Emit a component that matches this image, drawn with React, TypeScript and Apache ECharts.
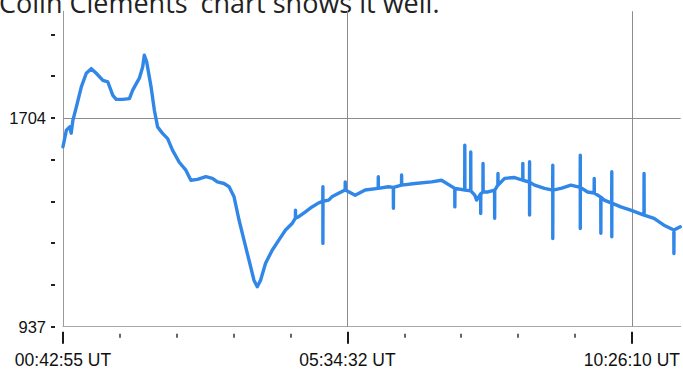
import React, { useEffect, useRef } from "react";
import * as echarts from "echarts";

// Time in minutes since 00:00 UT, values in the chart's units
const TIMES: number[] = [
  42.9, 46.4, 49.8, 51.3, 53.1, 56.6, 61.7, 66.8, 71.9, 77.0, 83.8, 88.9, 94.0, 97.5, 104.2, 111.0,
  114.4, 121.2, 124.6, 126.3, 128.7, 133.2, 136.6, 139.9, 145.0, 150.2, 155.3, 162.1, 168.9, 174.0,
  180.8, 189.4, 196.1, 201.2, 208.0, 213.2, 218.3, 223.4, 228.5, 233.6, 238.7, 242.1, 245.5, 250.6,
  257.4, 264.2, 271.1, 277.8, 281.2, 281.3, 281.4, 284.6, 291.5, 298.2, 305.1, 309.3, 309.4, 309.4,
  309.5, 315.3, 318.6, 325.5, 332.2, 332.3, 332.4, 342.5, 352.7, 366.1, 366.2, 366.3, 376.5, 381.6,
  381.7, 381.8, 390.0, 390.1, 390.2, 403.8, 420.8, 431.0, 444.6, 444.7, 444.8, 454.8, 454.9, 455.0,
  460.9, 461.0, 461.1, 465.1, 467.0, 471.1, 471.2, 471.3, 473.5, 473.6, 473.7, 478.7, 485.4, 485.5,
  485.6, 488.8, 488.9, 489.0, 495.7, 506.0, 514.3, 514.4, 514.5, 521.2, 521.3, 521.3, 521.4, 526.4,
  536.6, 545.0, 545.1, 545.1, 545.2, 553.5, 563.7, 573.2, 573.3, 573.3, 573.4, 580.8, 587.5, 587.6,
  587.7, 594.3, 594.4, 594.5, 597.8, 605.5, 605.6, 605.6, 605.7, 614.8, 625.0, 638.6, 638.7, 638.8,
  648.9, 659.1, 669.2, 669.3, 669.4, 675.8,
];
const VALUES: number[] = [
  1598, 1659, 1671, 1648, 1696, 1744, 1818, 1868, 1885, 1868, 1842, 1836, 1787, 1772, 1772, 1775,
  1806, 1850, 1891, 1934, 1910, 1818, 1732, 1671, 1647, 1628, 1585, 1541, 1512, 1475,
  1478, 1488, 1482, 1469, 1463, 1451, 1414, 1329, 1255, 1182, 1108, 1084, 1108, 1170,
  1218, 1255, 1292, 1316, 1336, 1365, 1336, 1341, 1359, 1377, 1392, 1398, 1451, 1243,
  1398, 1402, 1414, 1427, 1439, 1469, 1439, 1420, 1439, 1445, 1488, 1445, 1451, 1449,
  1372, 1449, 1457, 1494, 1457, 1463, 1469, 1475, 1445, 1377, 1445, 1439, 1604, 1439,
  1436, 1579, 1436, 1420, 1402, 1425, 1353, 1425, 1432, 1537, 1432, 1432, 1439, 1335,
  1439, 1457, 1500, 1457, 1482, 1485, 1475, 1537, 1475, 1468, 1543, 1347, 1468, 1457,
  1445, 1439, 1530, 1261, 1439, 1445, 1457, 1449, 1567, 1298, 1449, 1432, 1428, 1482,
  1428, 1413, 1280, 1413, 1402, 1391, 1506, 1267, 1391, 1377, 1365, 1347, 1500, 1347,
  1335, 1310, 1292, 1206, 1292, 1304,
];

// Axis ticks (x in seconds since 00:00 UT)
const X_LABEL_SECONDS: number[] = [2575, 20072, 37570];
const X_MINOR_SECONDS: number[] = [6074.5, 9574, 13073.5, 16573, 23571.5, 27071, 30570.5, 34070];
const Y_TICKS: number[] = [937, 1090.4, 1243.8, 1397.2, 1550.6, 1704, 1857.4, 2010.8];
const Y_LABELS: number[] = [937, 1704];
const GRID_X_SECONDS: number[] = [20072, 37570];
const GRID_Y: number[] = [1704];
const HEADLINE = "Colin Clements' chart shows it well.";

const X_MIN = 2575 / 60;
const X_MAX = 676.2;
const Y_MIN = 937;
const Y_MAX = 2096;

const pad = (n: number) => String(n).padStart(2, "0");
const fmtTime = (min: number) => {
  const s = Math.round(min * 60);
  const h = Math.floor(s / 3600);
  const m = Math.floor((s % 3600) / 60);
  const sec = s % 60;
  return `${pad(h)}:${pad(m)}:${pad(sec)} UT`;
};

export default function App() {
  const ref = useRef<HTMLDivElement>(null);
  useEffect(() => {
    if (!ref.current) return;
    const chart = echarts.init(ref.current, undefined, { renderer: "svg" });
    const font = "Liberation Sans";
    const baseX = { type: "value" as const, min: X_MIN, max: X_MAX, position: "bottom" as const, splitLine: { show: false } };
    const baseY = { type: "value" as const, min: Y_MIN, max: Y_MAX, position: "left" as const, splitLine: { show: false } };
    chart.setOption({
      animation: false,
      backgroundColor: "#ffffff",
      grid: { left: 63, right: 0, top: 11.2, bottom: 44.3, containLabel: false },
      graphic: [
        {
          type: "text",
          x: -1,
          y: 2,
          style: {
            text: HEADLINE,
            font: '27px "Open Sans"',
            fill: "#222222",
            verticalAlign: "middle",
          },
        },
      ],
      xAxis: [
        {
          ...baseX,
          axisLine: { show: true, lineStyle: { color: "#a8a8a8", width: 1 } },
          axisTick: { show: false },
          axisLabel: { show: false },
        },
        {
          ...baseX,
          offset: 5,
          axisLine: { show: false },
          axisTick: {
            show: true,
            length: 12,
            customValues: X_LABEL_SECONDS.map((s) => s / 60),
            lineStyle: { color: "#1a1a1a", width: 2 },
          },
          axisLabel: {
            show: true,
            customValues: X_LABEL_SECONDS.map((s) => s / 60),
            formatter: (v: number) => fmtTime(v),
            fontFamily: font,
            fontSize: 17.5,
            color: "#111111",
            margin: 19,
          },
        },
        {
          ...baseX,
          offset: 7,
          axisLine: { show: false },
          axisTick: {
            show: true,
            length: 4,
            customValues: X_MINOR_SECONDS.map((s) => s / 60),
            lineStyle: { color: "#333333", width: 1.5 },
          },
          axisLabel: { show: false },
        },
      ],
      yAxis: [
        {
          ...baseY,
          axisLine: { show: true, lineStyle: { color: "#9a9a9a", width: 1 } },
          axisTick: { show: false },
          axisLabel: { show: false },
        },
        {
          ...baseY,
          offset: 8,
          axisLine: { show: false },
          axisTick: {
            show: true,
            length: 4,
            customValues: Y_TICKS,
            lineStyle: { color: "#222222", width: 2 },
          },
          axisLabel: {
            show: true,
            customValues: Y_LABELS,
            formatter: (v: number) => String(Math.round(v)),
            fontFamily: font,
            fontSize: 16.5,
            color: "#111111",
            margin: 9,
          },
        },
      ],
      series: [
        {
          type: "line",
          xAxisIndex: 0,
          yAxisIndex: 0,
          data: TIMES.map((t, i) => [t, VALUES[i]]),
          showSymbol: false,
          symbol: "none",
          z: 3,
          lineStyle: { color: "#3187e8", width: 3.4, join: "round", cap: "round" },
          markLine: {
            silent: true,
            symbol: "none",
            z: 1,
            label: { show: false },
            lineStyle: { color: "#8c8c8c", width: 1, type: "solid" },
            data: [
              ...GRID_Y.map((y) => ({ yAxis: y })),
              ...GRID_X_SECONDS.map((s) => ({ xAxis: s / 60 })),
            ],
          },
        },
      ],
    });
    return () => chart.dispose();
  }, []);
  return (
    <div
      ref={ref}
      style={{ position: "fixed", left: 0, top: 0, width: 683, height: 371, background: "#fff" }}
    />
  );
}
